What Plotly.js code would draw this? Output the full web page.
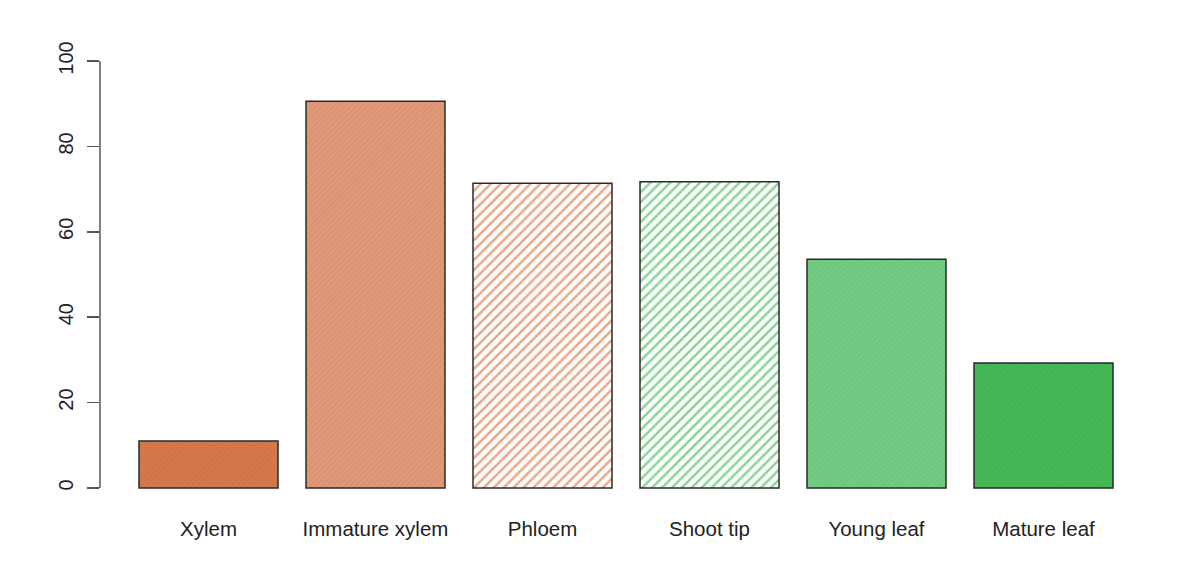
<!DOCTYPE html>
<html>
<head>
<meta charset="utf-8">
<script src="https://cdn.plot.ly/plotly-3.0.1.min.js"></script>
<style>html,body{margin:0;padding:0;background:#fff;}#chart{width:1200px;height:574px;}</style>
</head>
<body>
<div id="chart"></div>
<script>
var categories = ["Xylem", "Immature xylem", "Phloem", "Shoot tip", "Young leaf", "Mature leaf"];
var values = [11.0, 90.6, 71.4, 71.7, 53.6, 29.3];
var fillColors = ["#d57a4c", "#e09a79", "#ffffff", "#ffffff", "#74cc84", "#46b956"];
var hatchColors = ["#cc7244", "#d68f6e", "#eaa686", "#86d495", "#69c47a", "#40b150"];
var hatchSize = [4, 4, 7, 7, 4, 4];
var hatchSolidity = [0.3, 0.3, 0.35, 0.35, 0.3, 0.3];
var yTicks = [0, 20, 40, 60, 80, 100];

var traces = categories.map(function (cat, i) {
  return {
    type: "bar",
    x: [cat],
    y: [values[i]],
    name: cat,
    marker: {
      color: fillColors[i],
      line: {color: "#2a2a2a", width: 1.5},
      pattern: {
        shape: "/",
        fillmode: "replace",
        fgcolor: hatchColors[i],
        bgcolor: fillColors[i],
        size: hatchSize[i],
        solidity: hatchSolidity[i]
      }
    },
    hoverinfo: "x+y"
  };
});

var layout = {
  width: 1200,
  height: 574,
  margin: {l: 100, r: 50, t: 40, b: 74},
  paper_bgcolor: "#ffffff",
  plot_bgcolor: "#ffffff",
  showlegend: false,
  barmode: "overlay",
  bargap: 0.1677,
  font: {family: "Liberation Sans, Arial, sans-serif", size: 20, color: "#222222"},
  xaxis: {
    type: "category",
    categoryorder: "array",
    categoryarray: categories,
    range: [-0.6497, 5.6377],
    showline: false,
    showgrid: false,
    zeroline: false,
    ticks: "",
    ticklabelstandoff: 14,
    tickfont: {size: 20.5, color: "#222222"}
  },
  yaxis: {
    range: [-2.81, 104.92],
    tickvals: yTicks,
    ticktext: yTicks.map(String),
    showline: false,
    showgrid: false,
    zeroline: false,
    ticks: "outside",
    ticklen: 12,
    tickwidth: 1.5,
    tickcolor: "#555555",
    tickangle: -90,
    ticklabelstandoff: 6,
    tickfont: {size: 20, color: "#222222"}
  },
  shapes: [{
    type: "line", xref: "paper", yref: "y",
    x0: 0, x1: 0, y0: yTicks[0], y1: yTicks[yTicks.length - 1],
    line: {color: "#555555", width: 1.5}
  }]
};

Plotly.newPlot("chart", traces, layout, {displayModeBar: false, staticPlot: true});
</script>
</body>
</html>
